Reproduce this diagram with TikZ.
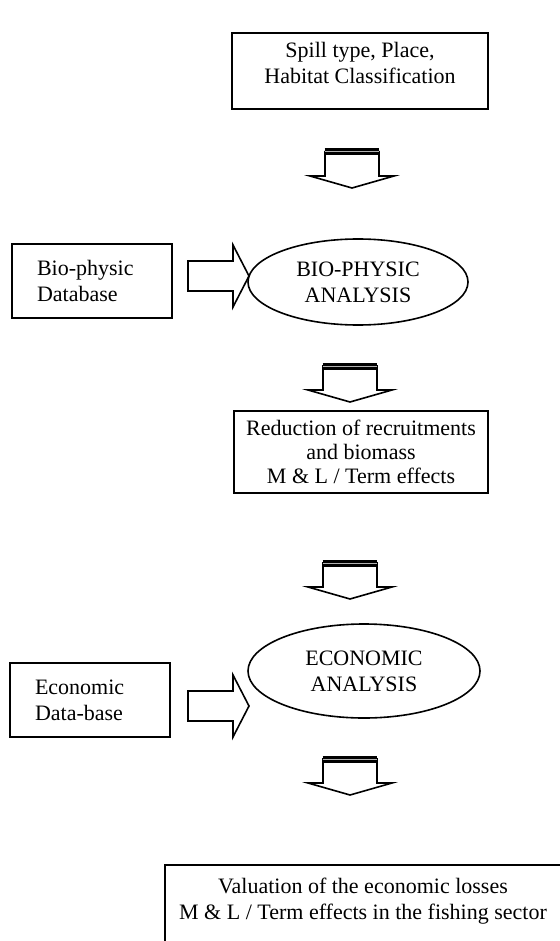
\documentclass[tikz,border=0pt]{standalone}
\usepackage{fontspec}
\setmainfont{Liberation Serif}
\usetikzlibrary{shapes.geometric}

\begin{document}
\begin{tikzpicture}[x=0.5pt,y=-0.5pt,
  font=\fontsize{11}{13}\selectfont,
  frame/.style={draw, line width=0.8pt},
  textbox/.style={frame, align=center, inner sep=0pt},
  sidebox/.style={frame, align=left, text width=55pt, inner xsep=12.5pt, minimum height=37pt},
  oval/.style={draw, line width=0.8pt, ellipse, inner sep=0pt, align=center},
  blockline/.style={line width=0.8pt, line join=miter},
  downblock/.pic={
    \draw[blockline] (-27,3) -- (-27,28) -- (-42,28) -- (0,40) -- (42,28) -- (27,28) -- (27,3);
    \draw[line width=1.5pt, double=gray!60, double distance=0.5pt] (-27.4,4) -- (27.4,4);
  },
  rightblock/.pic={
    \draw[blockline] (0,-15) -- (45,-15) -- (45,-31) -- (61,0) -- (45,31) -- (45,15) -- (0,15) -- cycle;
  }]
\useasboundingbox (0,0) rectangle (560,941);
\clip (0,0) rectangle (560,941);

% input of the spill
\draw[frame] (232,33) rectangle (488,109);
\node (spill) at (360,63) [align=center] {Spill type, Place,\\Habitat Classification};
\pic at (352,148) {downblock};

% bio-physic step
\node[sidebox] (biodb) at (92,281) {Bio-physic\\Database};
\node[oval, minimum width=110pt, minimum height=43pt] (bioan) at (358,282) {BIO-PHYSIC\\ANALYSIS};
\pic at (188,276) {rightblock};
\pic at (350,362) {downblock};

\node[textbox, minimum width=127pt, minimum height=41pt, font=\fontsize{11}{12}\selectfont] (reduc) at (361,452)
  {Reduction of recruitments\\and biomass\\M \& L / Term effects};
\pic at (350,559) {downblock};

% economic step
\node[sidebox] (ecodb) at (90,700) {Economic\\Data-base};
\node[oval, minimum width=116pt, minimum height=47pt] (ecoan) at (364,671) {ECONOMIC\\ANALYSIS};
\pic at (188,706) {rightblock};
\pic at (350,755) {downblock};

% result, cut by the page edge
\draw[frame] (165,865) rectangle (600,1000);
\node (valu) at (363,901) [align=center] {Valuation of the economic losses\\M \& L / Term effects in the fishing sector};
\end{tikzpicture}
\end{document}
